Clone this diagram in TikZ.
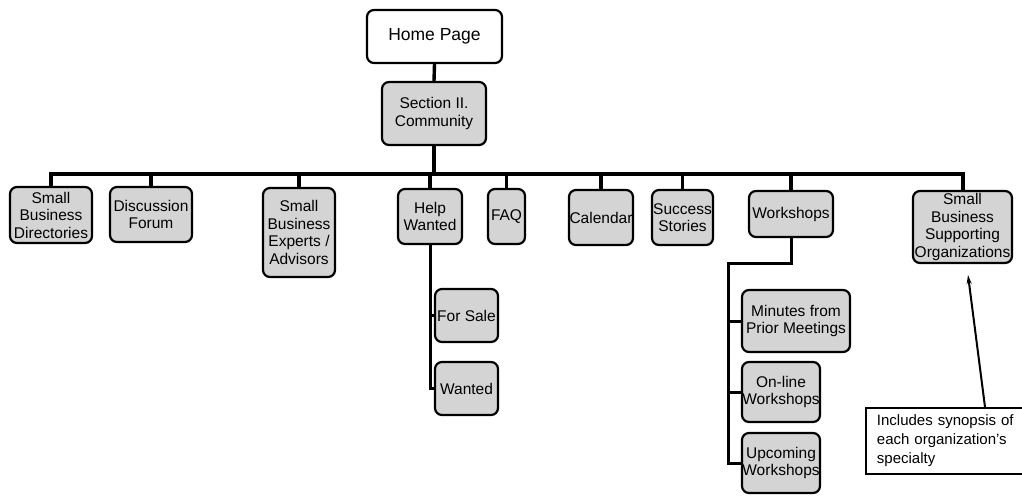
\documentclass[tikz,border=0pt]{standalone}
\usepackage{fontspec}
\setmainfont{Liberation Sans}
\usetikzlibrary{arrows.meta}
\begin{document}
\begin{tikzpicture}[x=1pt,y=-1pt,
  page/.style={draw, line width=2.2pt, rounded corners=7pt, fill=black!17,
    inner sep=0pt, align=center, font=\fontsize{15.5}{17.5}\selectfont},
  homebox/.style={page, fill=white, font=\fontsize{17.5}{20}\selectfont},
  notebox/.style={draw, line width=1.8pt, fill=white, inner xsep=11pt, inner ysep=3pt,
    align=left, text width=138pt, font=\fontsize{15}{19}\selectfont},
  link/.style={line width=3.4pt},
  sublink/.style={line width=3pt},
  callout/.style={line width=2pt, -{Stealth[length=9pt,width=5pt]}}]
\useasboundingbox (0,0) rectangle (1022,496);

% top of the tree
\node[homebox, minimum width=135pt, minimum height=53pt] (home) at (434.5,36.5) {Home Page};
\node[page, minimum width=104pt, minimum height=63pt] (sec) at (434,113.5) {Section II.\\Community};

% second level
\node[page, minimum width=82pt, minimum height=56pt] (sbd) at (51,215) {Small\\Business\\Directories};
\node[page, minimum width=82pt, minimum height=55pt] (df) at (151,214.5) {Discussion\\Forum};
\node[page, minimum width=72pt, minimum height=89pt] (sbe) at (299,232.5) {Small\\Business\\Experts /\\Advisors};
\node[page, minimum width=64pt, minimum height=55pt] (hw) at (430,216.5) {Help\\Wanted};
\node[page, minimum width=37pt, minimum height=55pt] (faq) at (506.5,216.5) {FAQ};
\node[page, minimum width=64pt, minimum height=55pt] (cal) at (601,217.5) {Calendar};
\node[page, minimum width=61pt, minimum height=55pt] (ss) at (682.5,217.5) {Success\\Stories};
\node[page, minimum width=84pt, minimum height=46pt] (ws) at (791,214) {Workshops};
\node[page, minimum width=99pt, minimum height=72pt] (sbso) at (962.5,227) {Small\\Business\\Supporting\\Organizations};

% third level
\node[page, minimum width=63pt, minimum height=53pt] (fs) at (466.5,315.5) {For Sale};
\node[page, minimum width=63pt, minimum height=53pt] (wt) at (466.5,388.5) {Wanted};
\node[page, minimum width=108pt, minimum height=62pt] (mpm) at (796,321) {Minutes from\\Prior Meetings};
\node[page, minimum width=78pt, minimum height=60pt] (ow) at (781,392) {On-line\\Workshops};
\node[page, minimum width=78pt, minimum height=60pt] (uw) at (781,463) {Upcoming\\Workshops};

% annotation
\node[notebox, anchor=north west, minimum width=156pt, minimum height=66pt] (note) at (865,407)
  {Includes synopsis of\\each organization's\\specialty};

% bus and connectors
\coordinate (bus) at (434,174);
\coordinate (busR) at (963,174);
\draw[link] (home.south) -- (sec.north);
\draw[link] (sec.south) -- (bus);
\draw[link] (sbd.north) |- (busR) -- (sbso.north -| busR);
\foreach \n in {df,sbe,hw,faq,cal,ss,ws}
  \draw[link] (\n.north) -- (\n.north |- bus);

% help wanted branch
\draw[sublink] (hw.south) -- (hw.south |- wt.west) -- (wt.west);
\draw[sublink] (hw.south |- fs.west) -- (fs.west);

% workshops branch
\coordinate (wsj) at (728,263);
\draw[sublink] (ws.south) |- (wsj) |- (uw.west);
\draw[sublink] (wsj |- mpm.west) -- (mpm.west);
\draw[sublink] (wsj |- ow.west) -- (ow.west);

% callout arrow
\coordinate (tail) at (985,407);
\coordinate (tip) at (968,275);
\draw[callout] (tail) -- (tip);
\end{tikzpicture}
\end{document}
